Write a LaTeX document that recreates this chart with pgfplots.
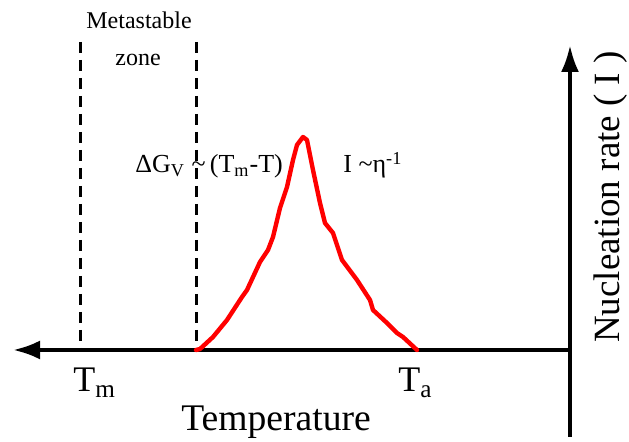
\documentclass[border=0pt]{standalone}
\usepackage{fontspec}
\setmainfont{Liberation Serif}
\usepackage{pgfplots}
\pgfplotsset{compat=1.18}
\usetikzlibrary{arrows.meta}

\begin{document}
\begin{tikzpicture}
% one axis unit = one pixel of the reference, y counted downwards
\begin{axis}[
  scale only axis, width=314.5pt, height=221pt,
  xmin=0, xmax=629, ymin=0, ymax=442, y dir=reverse,
  hide axis, clip=false,
]
% metastable zone borders
\addplot[black, line width=1.5pt, dash pattern=on 5.5pt off 3.5pt] coordinates {(80,42) (80,350)};
\addplot[black, line width=1.5pt, dash pattern=on 5.5pt off 3.5pt] coordinates {(196,42) (196,350)};

% temperature axis (arrow to the left) and rate axis (arrow up)
\addplot[black, line width=2pt, -{Latex[length=13.5pt,width=9.5pt]}] coordinates {(570,350) (13,350)};
\addplot[black, line width=2pt, -{Latex[length=13.5pt,width=9pt]}] coordinates {(570,437) (570,45)};

% nucleation rate curve
\addplot[red, line width=2.2pt, line join=round, line cap=round] coordinates {
  (196,350) (200,349) (213,337) (227,320) (242,297) (247,290)
  (260,262) (268,250) (273,237) (280,208) (287,187) (293,160)
  (297,145) (303,137) (307,140) (313,170) (320,203) (325,223)
  (333,233) (342,260) (357,280) (370,300) (373,310) (387,323)
  (397,333) (403,337) (417,350)
};

\node[anchor=base, font=\fontsize{12pt}{14pt}\selectfont] at (axis cs:139,29) {Metastable};
\node[anchor=base, font=\fontsize{12pt}{14pt}\selectfont] at (axis cs:138,66) {zone};
\node[anchor=base west, font=\fontsize{13pt}{16pt}\selectfont, inner sep=0pt] at (axis cs:135,173)
  {ΔG\textsubscript{V} \textasciitilde\,(T\textsubscript{m}-T)};
\node[anchor=base west, font=\fontsize{13pt}{16pt}\selectfont, inner sep=0pt] at (axis cs:343,173)
  {I \textasciitilde η\textsuperscript{-1}};
\node[anchor=base west, font=\fontsize{18pt}{20pt}\selectfont, inner sep=0pt] at (axis cs:73,392)
  {T\textsubscript{m}};
\node[anchor=base west, font=\fontsize{18pt}{20pt}\selectfont, inner sep=0pt] at (axis cs:398,392)
  {T\textsubscript{a}};
\node[anchor=base, font=\fontsize{18.8pt}{21pt}\selectfont, inner sep=0pt] at (axis cs:276,431)
  {Temperature};
\node[anchor=base, rotate=90, font=\fontsize{18.5pt}{21pt}\selectfont, inner sep=0pt] at (axis cs:620,197)
  {Nucleation rate ( I )};
\end{axis}
\pgfresetboundingbox
\path (current axis.south west) rectangle (current axis.north east);
\end{tikzpicture}
\end{document}
